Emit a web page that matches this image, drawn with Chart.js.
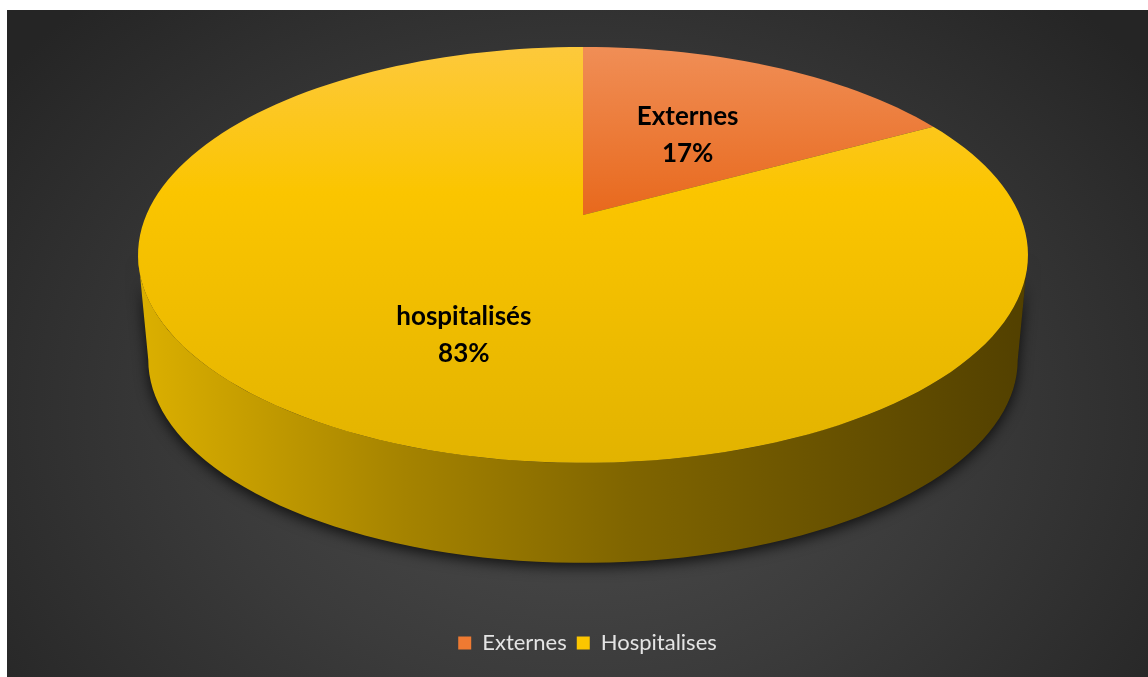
<!DOCTYPE html>
<html>
<head>
<meta charset="utf-8">
<script src="https://cdn.jsdelivr.net/npm/chart.js@4.4.0/dist/chart.umd.min.js"></script>
<style>
  html, body { margin: 0; padding: 0; background: #fff; }
  #frame {
    position: absolute; left: 7px; top: 10px; width: 1141px; height: 667px;
    background: radial-gradient(ellipse 720px 560px at 572px 400px, #4e4e4e 0%, #3b3b3b 50%, #252525 100%);
  }
  canvas { display: block; }
</style>
</head>
<body>
<div id="frame"><canvas id="pieChart" width="1141" height="667"></canvas></div>
<script>
// categories (legend) and the names printed on the slices
const categories = ['Externes', 'Hospitalises'];
const sliceNames = ['Externes', 'hospitalisés'];
const shares = [17, 83];

// perspective view of the disc: centre of the disc, radii, tilt factor, wall height
const view = { cx: 576, cy: 205, ax: 436.7, ay: 200.3, k: -0.192, depth: 105.7, shrink: 0.977 };

function project(u, v, bottom) {
  const s = bottom ? view.shrink : 1;
  const d = 1 + view.k * v;
  return [view.cx + s * view.ax * u / d, view.cy + (bottom ? view.depth : 0) + s * view.ay * v / d];
}

const topFaces = [
  [[0, '#f08e56'], [0.4, '#e8691d'], [1, '#e05a10']],
  [[0, '#fdc93c'], [0.35, '#fbc500'], [1, '#e2b300']]
];
const wallFaces = [
  [[0, '#d66820'], [0.5, '#9a4a12'], [1, '#6e3408']],
  [[0, '#dcb000'], [0.3, '#a58300'], [0.55, '#806500'], [1, '#524000']]
];

function arcPoints(a0, a1, bottom) {
  const n = Math.max(2, Math.ceil(Math.abs(a1 - a0) / (Math.PI / 90)));
  const pts = [];
  for (let j = 0; j <= n; j++) {
    const t = a0 + (a1 - a0) * j / n;
    pts.push(project(Math.cos(t), Math.sin(t), bottom));
  }
  return pts;
}

function grad(ctx, x0, y0, x1, y1, stops) {
  const g = ctx.createLinearGradient(x0, y0, x1, y1);
  stops.forEach(s => g.addColorStop(s[0], s[1]));
  return g;
}

// draws the pie as a tilted 3D disc from the arc elements Chart.js computed
const pie3d = {
  id: 'pie3d',
  beforeDatasetsDraw(chart) {
    const ctx = chart.ctx;
    const arcs = chart.getDatasetMeta(0).data;
    const edge = Math.asin(-view.k);
    const yTop = view.cy - view.ay / (1 - view.k);
    const yBot = view.cy + view.ay / (1 + view.k);
    const xL = view.cx - view.ax * 1.02, xR = view.cx + view.ax * 1.02;

    // drop shadow under the whole solid
    ctx.save();
    ctx.shadowColor = 'rgba(0,0,0,0.75)';
    ctx.shadowBlur = 14;
    ctx.shadowOffsetY = 4;
    ctx.beginPath();
    arcPoints(edge, Math.PI - edge, false).forEach((p, j) => j ? ctx.lineTo(p[0], p[1]) : ctx.moveTo(p[0], p[1]));
    arcPoints(Math.PI - edge, edge, true).forEach(p => ctx.lineTo(p[0], p[1]));
    ctx.closePath();
    ctx.fillStyle = '#1a1a1a';
    ctx.fill();
    ctx.restore();

    // walls of the front half
    arcs.forEach((arc, i) => {
      [0, -2 * Math.PI].forEach(shift => {
        const a0 = Math.max(arc.startAngle + shift, edge);
        const a1 = Math.min(arc.endAngle + shift, Math.PI - edge);
        if (a1 <= a0) return;
        ctx.beginPath();
        arcPoints(a0, a1, false).forEach((p, j) => j ? ctx.lineTo(p[0], p[1]) : ctx.moveTo(p[0], p[1]));
        arcPoints(a1, a0, true).forEach(p => ctx.lineTo(p[0], p[1]));
        ctx.closePath();
        ctx.fillStyle = grad(ctx, xL, 0, xR, 0, wallFaces[i]);
        ctx.fill();
      });
    });

    // top faces
    arcs.forEach((arc, i) => {
      const c = project(0, 0, false);
      ctx.beginPath();
      ctx.moveTo(c[0], c[1]);
      arcPoints(arc.startAngle, arc.endAngle, false).forEach(p => ctx.lineTo(p[0], p[1]));
      ctx.closePath();
      ctx.fillStyle = grad(ctx, 0, yTop, 0, yBot, topFaces[i]);
      ctx.fill();
    });

    // slice labels
    const total = shares.reduce((a, b) => a + b, 0);
    ctx.save();
    ctx.fillStyle = '#000';
    ctx.font = 'bold 26px Lato';
    ctx.textAlign = 'center';
    ctx.textBaseline = 'middle';
    arcs.forEach((arc, i) => {
      const mid = (arc.startAngle + arc.endAngle) / 2;
      const u = 0.5 * Math.cos(mid), v = 0.5 * Math.sin(mid);
      const p = project(u, v, false);
      const y = p[1] + (v > 0 ? view.depth * 0.25 : 0);
      ctx.fillText(sliceNames[i], p[0] + 2, y - 18.5);
      ctx.fillText(Math.round(shares[i] / total * 100) + '%', p[0] + 2, y + 18.5);
    });
    ctx.restore();
    return false;
  }
};

new Chart(document.getElementById('pieChart'), {
  type: 'pie',
  data: {
    labels: categories,
    datasets: [{
      data: shares,
      backgroundColor: ['#ef7a32', '#fcc600'],
      borderWidth: 0
    }]
  },
  options: {
    responsive: false,
    animation: false,
    events: [],
    layout: { padding: { left: 20, bottom: 13 } },
    plugins: {
      tooltip: { enabled: false },
      legend: {
        position: 'bottom',
        labels: {
          color: '#e4e4e4',
          font: { family: 'Lato', size: 22 },
          boxWidth: 13,
          boxHeight: 13,
          padding: 10
        }
      }
    }
  },
  plugins: [pie3d]
});
</script>
</body>
</html>
